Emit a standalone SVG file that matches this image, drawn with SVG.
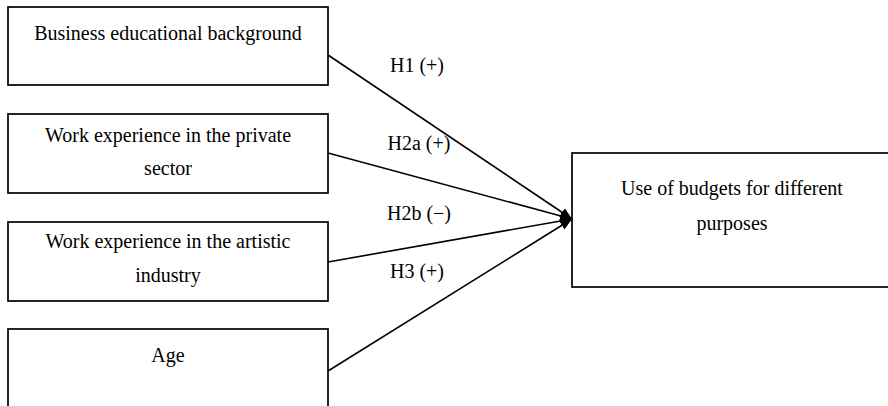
<svg xmlns="http://www.w3.org/2000/svg" width="888" height="406" viewBox="0 0 888 406">
<style>
.box{fill:#fff;stroke:#000;stroke-width:1.7}
.t{font-family:"Liberation Serif","Times New Roman",serif;font-size:20px;fill:#000;text-anchor:middle}
.c{stroke:#000;stroke-width:1.6;fill:none;marker-end:url(#ah)}
</style>
<defs>
<marker id="ah" viewBox="0 0 12 10" refX="12" refY="5" markerWidth="12" markerHeight="10" markerUnits="userSpaceOnUse" orient="auto">
<path d="M0,0 L12,5 L0,10 z" fill="#000"/>
</marker>
</defs>
<rect width="888" height="406" fill="#fff"/>
<g id="n1"><rect class="box" x="8" y="7" width="320" height="78"/><text class="t" x="168" y="40">Business educational background</text></g>
<g id="n2"><rect class="box" x="8" y="114" width="320" height="79"/><text class="t" x="168" y="142">Work experience in the private</text><text class="t" x="168" y="175">sector</text></g>
<g id="n3"><rect class="box" x="8" y="222" width="320" height="79"/><text class="t" x="168" y="248">Work experience in the artistic</text><text class="t" x="168" y="282">industry</text></g>
<g id="n4"><rect class="box" x="8" y="329" width="320" height="90"/><text class="t" x="168" y="362">Age</text></g>
<g id="out"><rect class="box" x="572" y="153" width="330" height="134"/><text class="t" x="732" y="195">Use of budgets for different</text><text class="t" x="732" y="230">purposes</text></g>
<g id="connectors">
<line class="c" x1="328" y1="55" x2="572" y2="219"/>
<line class="c" x1="328" y1="153" x2="572" y2="219"/>
<line class="c" x1="328" y1="262" x2="572" y2="219"/>
<line class="c" x1="328" y1="371" x2="572" y2="219"/>
<text class="t" x="417" y="72">H1 (+)</text>
<text class="t" x="419" y="150">H2a (+)</text>
<text class="t" x="419" y="220">H2b (−)</text>
<text class="t" x="417" y="278">H3 (+)</text>
</g>
</svg>
